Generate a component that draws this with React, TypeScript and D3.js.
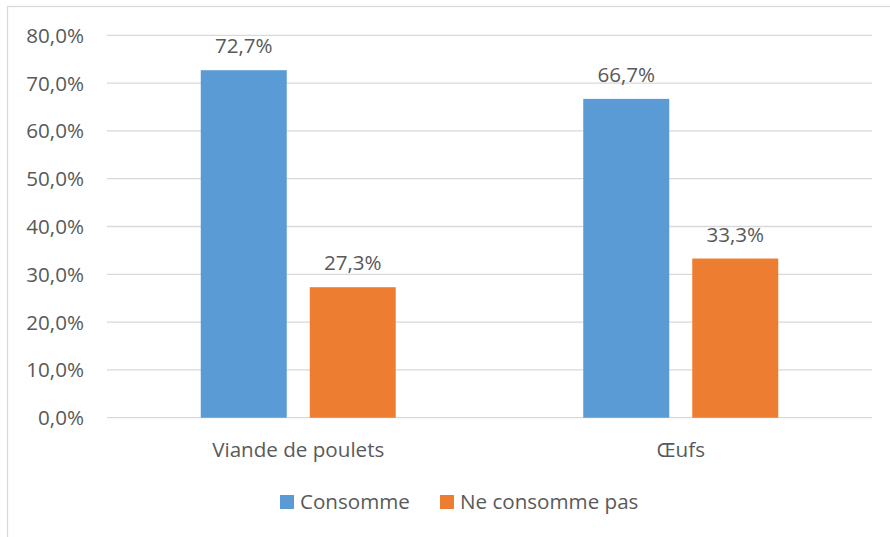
import React from "react";
import * as d3 from "d3";

const categories = ["Viande de poulets", "Œufs"];
const seriesNames = ["Consomme", "Ne consomme pas"];
const consomme = [72.7, 66.7];
const neConsommePas = [27.3, 33.3];
const yTicks = [0, 10, 20, 30, 40, 50, 60, 70, 80];
const colors = ["#5B9BD5", "#ED7D31"];

const W = 890;
const H = 537;
const plotLeft = 107;
const plotRight = 872;
const plotTop = 35.3;
const plotBottom = 417.7;
const FONT = "'Open Sans', sans-serif";
const FS = 20.6;
const TXT = "#595959";

const fmt = (v: number) => v.toFixed(1).replace(".", ",") + "%";

export default function App() {
  const y = d3.scaleLinear().domain([0, 80]).range([plotBottom, plotTop]);
  const x0 = d3.scaleBand<string>().domain(categories).range([plotLeft, plotRight]).paddingInner(0).paddingOuter(0);
  const barW = 86;
  const gap = 23;
  const series = [consomme, neConsommePas];

  return (
    <svg width={W} height={H} style={{ position: "absolute", left: 0, top: 0, background: "#fff" }}>
      <rect x={7.5} y={6.5} width={W + 10} height={H + 10} fill="#fff" stroke="#d9d9d9" strokeWidth={1.3} />
      {yTicks.map((t) => (
        <g key={t}>
          <line x1={plotLeft} x2={plotRight} y1={y(t)} y2={y(t)} stroke="#d9d9d9" strokeWidth={1.3} />
          <text x={84} y={y(t)} dy="0.36em" textAnchor="end" fontFamily={FONT} fontSize={FS} fill={TXT}>
            {fmt(t)}
          </text>
        </g>
      ))}
      {categories.map((c, ci) => {
        const cx = (x0(c) as number) + x0.bandwidth() / 2;
        const total = barW * 2 + gap;
        return (
          <g key={c}>
            {series.map((s, si) => {
              const bx = cx - total / 2 + si * (barW + gap);
              return (
                <g key={si}>
                  <rect x={bx} y={y(s[ci])} width={barW} height={plotBottom - y(s[ci])} fill={colors[si]} />
                  <text x={bx + barW / 2} y={y(s[ci]) - 17} textAnchor="middle" fontFamily={FONT} fontSize={FS} fill={TXT}>
                    {fmt(s[ci])}
                  </text>
                </g>
              );
            })}
            <text x={cx} y={457} textAnchor="middle" fontFamily={FONT} fontSize={FS} fill={TXT}>
              {c}
            </text>
          </g>
        );
      })}
      {seriesNames.map((n, i) => {
        const lx = [280, 440][i];
        return (
          <g key={n}>
            <rect x={lx} y={495} width={14} height={14} fill={colors[i]} />
            <text x={lx + 20} y={509} fontFamily={FONT} fontSize={FS} fill={TXT}>
              {n}
            </text>
          </g>
        );
      })}
    </svg>
  );
}
